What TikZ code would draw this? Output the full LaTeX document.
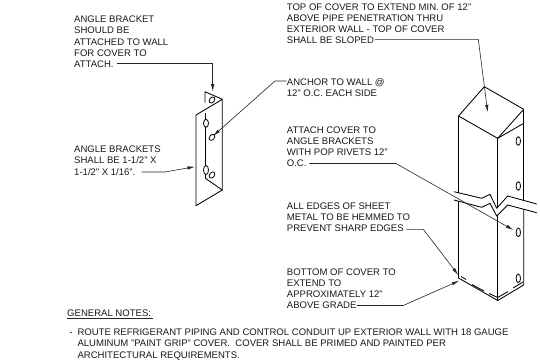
\documentclass[tikz,border=0pt]{standalone}
\usepackage{fontspec}
\setmainfont{Liberation Sans}
\usetikzlibrary{arrows.meta}
\tikzset{
  lbl/.style={anchor=north west,inner sep=0pt,align=left,font=\fontsize{9.55}{11.1}\selectfont,text=black!90},
  geo/.style={draw=black,line width=0.85pt,line join=round},
  lead/.style={draw=black!85,line width=0.6pt},
  leadarrow/.style={lead,-{Latex[length=7.5pt,width=3.4pt]}},
  hole/.style={draw=black,line width=0.8pt}
}
\begin{document}
\begin{tikzpicture}[x=1pt,y=-1pt]
\useasboundingbox (0,0) rectangle (540,359);
\fill[white] (0,0) rectangle (540,359);
% texts
\node[lbl] (t1) at (74,16) {ANGLE BRACKET\\SHOULD BE\\ATTACHED TO WALL\\FOR COVER TO\\ATTACH.};
\node[lbl] (t2) at (74,146) {ANGLE BRACKETS\\SHALL BE 1-1/2" X\\1-1/2" X 1/16".};
\node[lbl] (t3) at (286.7,78.4) {ANCHOR TO WALL @\\12" O.C. EACH SIDE};
\node[lbl] (t4) at (286.7,3.4) {TOP OF COVER TO EXTEND MIN. OF 12"\\ABOVE PIPE PENETRATION THRU\\EXTERIOR WALL - TOP OF COVER\\SHALL BE SLOPED};
\node[lbl] (t5) at (286.7,126.7) {ATTACH COVER TO\\ANGLE BRACKETS\\WITH POP RIVETS 12"\\O.C.};
\node[lbl] (t6) at (286.7,202.7) {ALL EDGES OF SHEET\\METAL TO BE HEMMED TO\\PREVENT SHARP EDGES};
\node[lbl] (t7) at (286.7,268.7) {BOTTOM OF COVER TO\\EXTEND TO\\APPROXIMATELY 12"\\ABOVE GRADE};
\node[lbl] (t8) at (67,310) {GENERAL NOTES:};
\draw[lead] (67,318.5) -- (152.7,318.5);
\fill[black!85] (71,332.5) circle (0.8);
\node[lbl] (t10) at (77.3,329) {ROUTE REFRIGERANT PIPING AND CONTROL CONDUIT UP EXTERIOR WALL WITH 18 GAUGE\\ALUMINUM "PAINT GRIP" COVER.\ \ COVER SHALL BE PRIMED AND PAINTED PER\\ARCHITECTURAL REQUIREMENTS.};
% bracket
\draw[geo] (196,115) -- (222.3,99.3) -- (222.3,190) -- (196,205.7) -- cycle;
\draw[geo] (205,102.7) -- (205,91.7) -- (222.3,99.3);
\draw[geo] (205,178) -- (222.3,190);
\draw[geo] (205,113) -- (205,178);
\draw[hole,fill=white] (206,123.3) ellipse (2.5 and 4);
\draw[hole,fill=white] (206,170) ellipse (2.5 and 4.5);
\draw[hole,fill=white,rotate around={-40:(212,137.3)}] (212,137.3) ellipse (2.4 and 3.5);
\draw[hole,fill=white,rotate around={-40:(212,175)}] (212,175) ellipse (2.4 and 3.5);
\draw[hole,fill=white,rotate around={-40:(212,100)}] (212,100) ellipse (2.4 and 3.5);
% cover
\draw[geo] (458.5,116) -- (484.3,86.7) -- (523.7,109.3) -- (497.7,138.3) -- cycle;
\draw[geo] (497.7,138.3) -- (523.7,123.3);
\draw[geo] (458.5,116) -- (458.5,193);
\draw[geo] (458.5,201) -- (458.5,278) -- (497.7,300.5) -- (523.7,285) -- (523.7,209);
\draw[geo] (523.7,200.5) -- (523.7,109.3);
\draw[geo] (497.7,138.3) -- (497.7,208);
\draw[geo] (497.7,215) -- (497.7,300.5);
\draw[geo] (454,191.7) -- (481.7,198.3) -- (490,194.3) -- (496.7,208.3) -- (507.7,196) -- (536.7,204);
\draw[geo] (454,200) -- (481.7,207.3) -- (490,203.3) -- (496.7,216) -- (507.7,205) -- (536.7,212.7);
\draw[geo] (461,276.5) -- (466,279.5);
\draw[geo] (472,284.5) -- (484,291);
\draw[geo] (489,293.5) -- (497.7,297.5) -- (508,291.5);
\draw[geo] (513,288) -- (523,282);
\foreach \y in {141,186,232.3,278.3}{\draw[hole] (518.3,\y) ellipse (2.2 and 4.3);}
% leaders
\coordinate (e1) at (212.7,91.7);
\draw[leadarrow] (117,63) -- (212.7,63) -- (e1);
\coordinate (e2) at (213,136);
\draw[leadarrow] (286.7,81) -- (275,81) -- (e2);
\coordinate (e3) at (195,166.7);
\draw[leadarrow] (141.7,172) -- (165,172) -- (e3);
\coordinate (e4) at (487.7,112.3);
\draw[leadarrow] (375,39.3) -- (478.3,39.3) -- (e4);
\coordinate (e5) at (513.3,230);
\draw[leadarrow] (309.3,163.5) -- (396,163.5) -- (e5);
\coordinate (e6) at (458.3,275);
\draw[leadarrow] (406.7,229.3) -- (423.3,229.3) -- (e6);
\coordinate (e7) at (459.3,280.7);
\draw[leadarrow] (357,305.5) -- (403.3,305.5) -- (e7);
\end{tikzpicture}
\end{document}
